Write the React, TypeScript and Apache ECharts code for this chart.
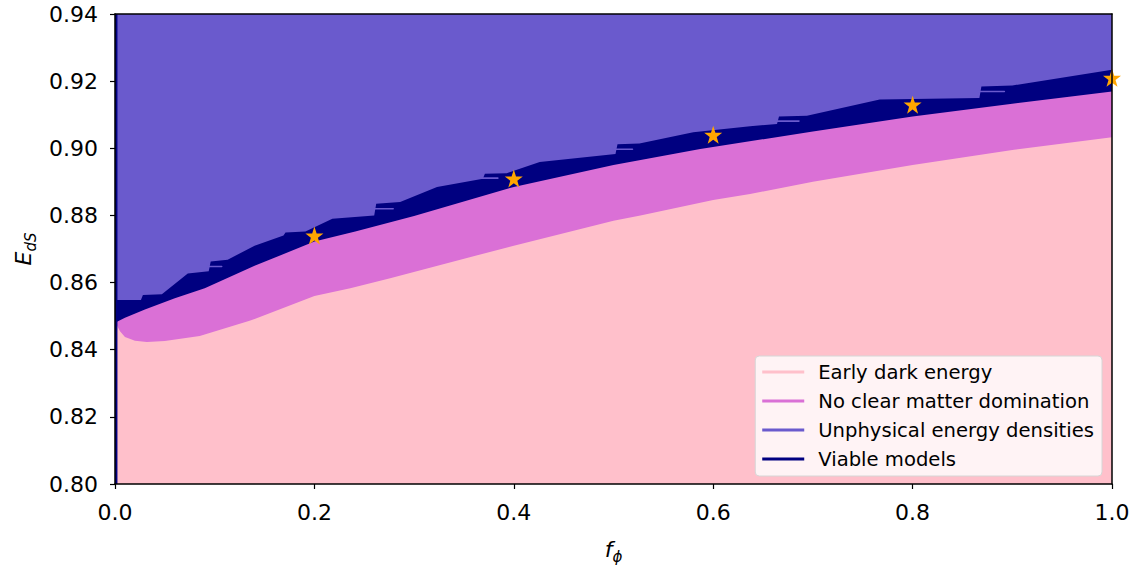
import React, { useEffect, useRef } from "react";
import * as echarts from "echarts";

// Upper boundary of "Early dark energy" region
const fPink = [0.0015, 0.005, 0.01, 0.02, 0.032, 0.05, 0.085, 0.135, 0.2, 0.236, 0.276, 0.4, 0.5, 0.527, 0.6, 0.637, 0.7, 0.8, 0.9, 1.0];
const ePink = [0.8475, 0.8455, 0.8438, 0.8427, 0.8423, 0.8426, 0.8441, 0.8486, 0.856, 0.8583, 0.8613, 0.871, 0.8784, 0.88, 0.8846, 0.8864, 0.89, 0.895, 0.8995, 0.9033];

// Upper boundary of "No clear matter domination" (lower edge of viable band)
const fOrchid = [0, 0.01, 0.03, 0.06, 0.09, 0.14, 0.2, 0.241, 0.3, 0.4, 0.5, 0.587, 0.7, 0.8, 0.9, 1.0];
const eOrchid = [0.848, 0.8495, 0.852, 0.8553, 0.8583, 0.865, 0.8722, 0.8752, 0.8798, 0.8885, 0.895, 0.8998, 0.905, 0.9095, 0.9133, 0.9169];

// Upper (ragged) boundary of "Viable models"
const fViable = [0, 0.026, 0.028, 0.047, 0.073, 0.094, 0.096, 0.113, 0.14, 0.169, 0.171, 0.191, 0.218, 0.26, 0.262, 0.286, 0.323, 0.369, 0.371, 0.393, 0.426, 0.502, 0.504, 0.526, 0.58, 0.637, 0.664, 0.666, 0.694, 0.767, 0.867, 0.869, 0.9, 1.0];
const eViable = [0.8548, 0.8548, 0.8563, 0.8565, 0.8627, 0.8634, 0.8663, 0.8668, 0.871, 0.874, 0.8749, 0.8752, 0.879, 0.88, 0.8835, 0.884, 0.8885, 0.8909, 0.8924, 0.8926, 0.8959, 0.8983, 0.9012, 0.9014, 0.9048, 0.9066, 0.9072, 0.9095, 0.9097, 0.9145, 0.915, 0.9184, 0.9187, 0.9234];

// Thin unphysical cracks running under the protruding ledges of the viable band
const crackStart = [0.092, 0.258, 0.367, 0.5, 0.662, 0.865];
const crackEnd = [0.107, 0.279, 0.384, 0.519, 0.686, 0.892];
const crackE = [0.8648, 0.882, 0.8911, 0.8997, 0.9081, 0.9169];

// Marked models (stars)
const fStars = [0.2, 0.4, 0.6, 0.8, 1.0];
const eStars = [0.874, 0.891, 0.904, 0.913, 0.921];

const xTicks = [0, 0.2, 0.4, 0.6, 0.8, 1.0];
const yTicks = [0.8, 0.82, 0.84, 0.86, 0.88, 0.9, 0.92, 0.94];

const legendNames = ["Early dark energy", "No clear matter domination", "Unphysical energy densities", "Viable models"];
const colors = ["#FFC0CB", "#DA70D6", "#6A5ACD", "#000080"];

const zip = (a: number[], b: number[]) => a.map((v, i) => [v, b[i]]);

const STAR = "path://M50,0 L61.8,35.1 L98.1,35.1 L68.8,56.7 L79.4,91 L50,70 L20.6,91 L31.2,56.7 L1.9,35.1 L38.2,35.1 Z";

const FONT = "DejaVu Sans";

function areaSeries(name: string, color: string, data: number[][]) {
  return {
    name,
    type: "line",
    data,
    showSymbol: false,
    symbol: "none",
    smooth: false,
    silent: true,
    lineStyle: { width: 0, color },
    itemStyle: { color },
    areaStyle: { color, opacity: 1, origin: "start" },
  };
}

export default function App() {
  const ref = useRef<HTMLDivElement>(null);
  useEffect(() => {
    const chart = echarts.init(ref.current!, null, { renderer: "svg" });
    const axisLine = { show: true, onZero: false, lineStyle: { color: "#000", width: 1.5 } };
    const crackSeries = crackStart.map((s, i) => ({
      type: "line",
      data: [[s, crackE[i]], [crackEnd[i], crackE[i]]],
      showSymbol: false,
      symbol: "none",
      silent: true,
      lineStyle: { width: 1.6, color: colors[2], cap: "round" },
    }));
    const option = {
      animation: false,
      textStyle: { fontFamily: FONT },
      grid: { left: 115, right: 25, top: 14, bottom: 82, containLabel: false },
      xAxis: [
        {
          type: "value",
          min: xTicks[0],
          max: xTicks[xTicks.length - 1],
          interval: 0.2,
          position: "bottom",
          z: 10,
          axisLine,
          axisTick: { show: true, length: 5, lineStyle: { color: "#000", width: 1.2 } },
          axisLabel: { fontSize: 22, color: "#000", margin: 17, fontFamily: FONT, formatter: (v: number) => v.toFixed(1), showMinLabel: true, showMaxLabel: true },
          splitLine: { show: false },
          name: "{i|f}{s|ϕ}",
          nameLocation: "middle",
          nameGap: 50,
          nameTextStyle: {
            rich: {
              i: { fontSize: 22, fontStyle: "italic", fontFamily: FONT, color: "#000", lineHeight: 30, verticalAlign: "middle" },
              s: { fontSize: 15, fontStyle: "italic", fontFamily: FONT, color: "#000", lineHeight: 15, verticalAlign: "bottom" },
            },
          },
        },
        {
          type: "value",
          min: 0,
          max: 1,
          position: "top",
          z: 10,
          axisLine,
          axisTick: { show: false },
          axisLabel: { show: false },
          splitLine: { show: false },
        },
      ],
      yAxis: [
        {
          type: "value",
          min: yTicks[0],
          max: yTicks[yTicks.length - 1],
          interval: 0.02,
          position: "left",
          z: 10,
          axisLine,
          axisTick: { show: true, length: 5, lineStyle: { color: "#000", width: 1.2 } },
          axisLabel: { fontSize: 22, color: "#000", margin: 17, fontFamily: FONT, formatter: (v: number) => v.toFixed(2), showMinLabel: true, showMaxLabel: true },
          splitLine: { show: false },
          name: "{i|E}{s|dS}",
          nameLocation: "middle",
          nameGap: 77,
          nameTextStyle: {
            rich: {
              i: { fontSize: 22, fontStyle: "italic", fontFamily: FONT, color: "#000", lineHeight: 30, verticalAlign: "middle" },
              s: { fontSize: 15, fontStyle: "italic", fontFamily: FONT, color: "#000", lineHeight: 15, verticalAlign: "bottom" },
            },
          },
        },
        {
          type: "value",
          min: 0.8,
          max: 0.94,
          position: "right",
          z: 10,
          axisLine,
          axisTick: { show: false },
          axisLabel: { show: false },
          splitLine: { show: false },
        },
      ],
      legend: {
        data: legendNames.map((n, i) => ({ name: n, itemStyle: { color: colors[i] } })),
        orient: "vertical",
        right: 35,
        bottom: 93,
        icon: "rect",
        itemWidth: 42,
        itemHeight: 3,
        itemGap: 9,
        selectedMode: false,
        textStyle: { fontSize: 19.6, color: "#000", fontFamily: FONT, padding: [0, 0, 0, 9] },
        backgroundColor: "rgba(255,255,255,0.8)",
        borderColor: "#d6d6d6",
        borderWidth: 1,
        borderRadius: 4,
        padding: [6, 8, 7, 7],
        z: 20,
      },
      series: [
        areaSeries(legendNames[2], colors[2], [[0, 0.94], [1, 0.94]]),
        areaSeries(legendNames[3], colors[3], zip(fViable, eViable)),
        ...crackSeries,
        areaSeries(legendNames[1], colors[1], zip(fOrchid, eOrchid)),
        areaSeries(legendNames[0], colors[0], zip(fPink, ePink)),
        {
          type: "line",
          data: [[0.0012, 0.8], [0.0012, 0.94]],
          showSymbol: false,
          symbol: "none",
          silent: true,
          lineStyle: { width: 2.5, color: "#000080" },
        },
        {
          type: "scatter",
          data: zip(fStars, eStars),
          symbol: STAR,
          symbolSize: 18,
          clip: true,
          silent: true,
          z: 5,
          itemStyle: { color: "#FFA500", opacity: 1 },
        },
      ],
    };
    chart.setOption(option as any);
    return () => chart.dispose();
  }, []);
  return (
    <div
      ref={ref}
      style={{ position: "fixed", left: 0, top: 0, width: 1137, height: 569, background: "#fff" }}
    />
  );
}
